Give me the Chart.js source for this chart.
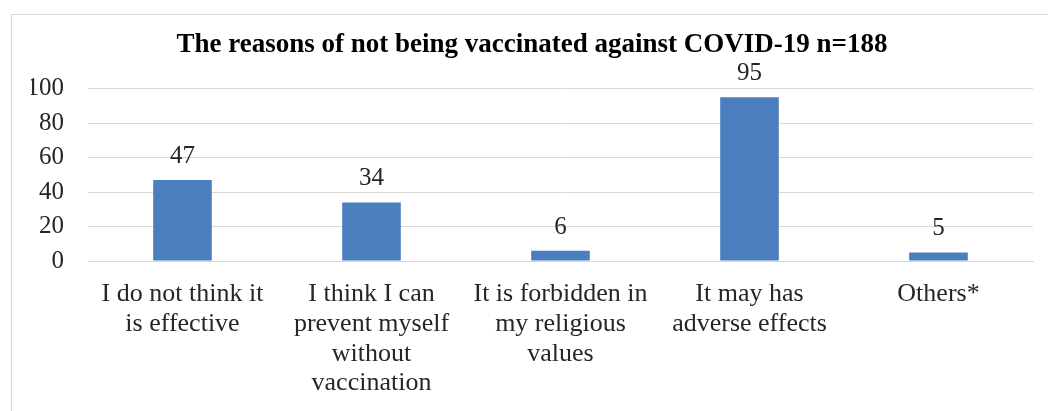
<!DOCTYPE html>
<html>
<head>
<meta charset="utf-8">
<script src="https://cdn.jsdelivr.net/npm/chart.js@4/dist/chart.umd.min.js"></script>
<style>
  html, body { margin: 0; padding: 0; background: #fff; overflow: hidden; width: 1048px; height: 411px; }
  #frame { position: absolute; left: 11px; top: 14px; width: 1060px; height: 420px; border: 1px solid #d9d9d9; box-sizing: border-box; }
  #wrap { position: absolute; left: 12px; top: 15px; width: 1040px; height: 396px; }
</style>
</head>
<body>
<div id="frame"></div>
<div id="wrap"><canvas id="c" width="1040" height="396"></canvas></div>
<script>
const titleText = "The reasons of not being vaccinated against COVID-19 n=188";
const categories = [
  ["I do not think it", "is effective"],
  ["I think I can", "prevent myself", "without", "vaccination"],
  ["It is forbidden in", "my religious", "values"],
  ["It may has", "adverse effects"],
  ["Others*"]
];
const counts = [47, 34, 6, 95, 5];
const yTicks = [0, 20, 40, 60, 80, 100];

const FONT = "'Liberation Serif', 'Times New Roman', serif";

const valueLabels = {
  id: 'valueLabels',
  afterDatasetsDraw(chart) {
    const ctx = chart.ctx;
    const meta = chart.getDatasetMeta(0);
    ctx.save();
    ctx.font = "25px " + FONT;
    ctx.fillStyle = "#262626";
    ctx.textAlign = "center";
    ctx.textBaseline = "alphabetic";
    meta.data.forEach((bar, i) => {
      ctx.fillText(String(chart.data.datasets[0].data[i]), bar.x, bar.y - 17);
    });
    ctx.restore();
  }
};

new Chart(document.getElementById('c'), {
  type: 'bar',
  data: {
    labels: categories,
    datasets: [{
      data: counts,
      backgroundColor: '#4a7ebe',
      borderWidth: 0,
      barPercentage: 0.31,
      categoryPercentage: 1.0
    }]
  },
  options: {
    responsive: false,
    animation: false,
    devicePixelRatio: 1,
    layout: { padding: { left: 19, right: 19, top: 0, bottom: 0 } },
    plugins: {
      legend: { display: false },
      tooltip: { enabled: false },
      title: {
        display: true,
        text: titleText,
        color: '#000',
        font: { family: FONT, size: 27, weight: 'bold', lineHeight: 1.1 },
        padding: { top: 15, bottom: 29 }
      }
    },
    scales: {
      y: {
        min: 0, max: 100,
        afterBuildTicks(scale) { scale.ticks = yTicks.map(v => ({ value: v })); },
        afterFit(scale) { scale.width = 57; },
        grid: { color: '#d9d9d9', lineWidth: 1, drawTicks: false },
        border: { display: false },
        ticks: {
          padding: 24,
          color: '#262626',
          font: { family: FONT, size: 25 }
        }
      },
      x: {
        afterFit(scale) { scale.height = 150; },
        grid: { display: false, drawTicks: false },
        border: { display: true, color: '#d9d9d9', width: 1 },
        ticks: {
          padding: 18,
          maxRotation: 0,
          autoSkip: false,
          color: '#262626',
          font: { family: FONT, size: 26, lineHeight: 1.15 }
        }
      }
    }
  },
  plugins: [valueLabels]
});
</script>
</body>
</html>
